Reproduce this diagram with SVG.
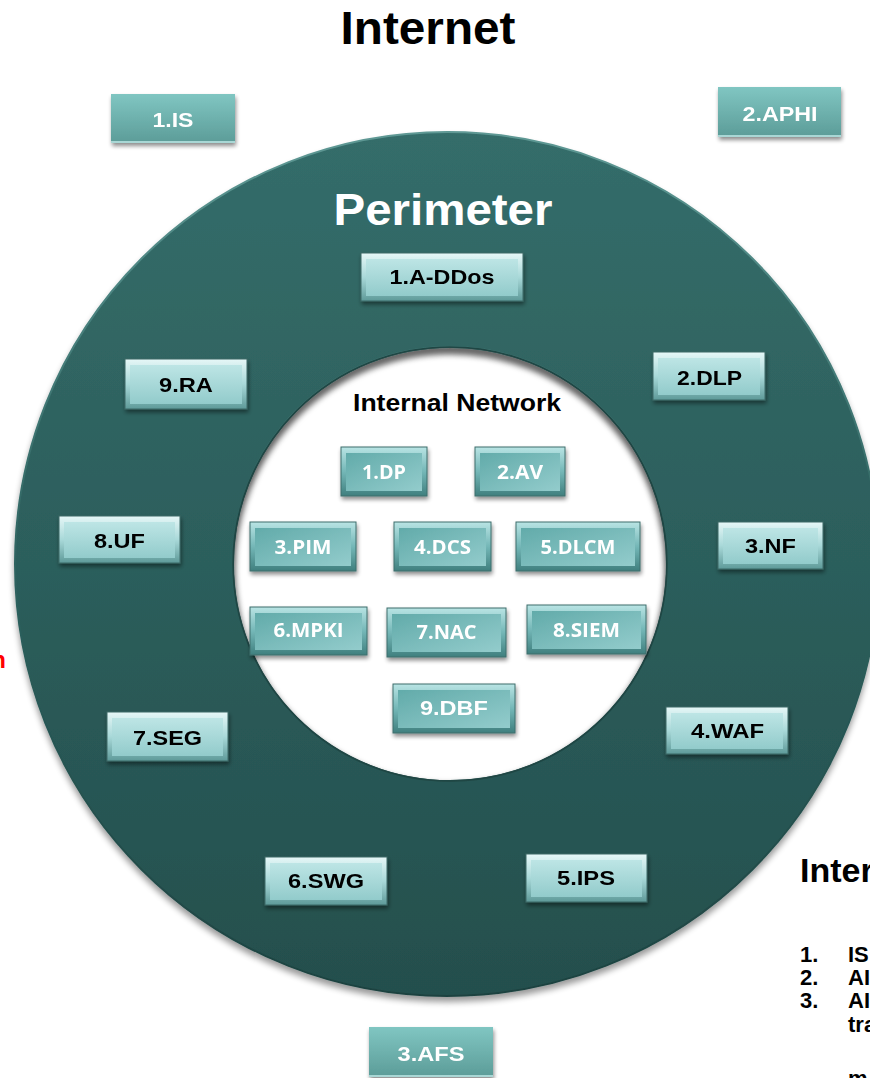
<svg xmlns="http://www.w3.org/2000/svg" width="870" height="1078" viewBox="0 0 870 1078">
<defs>
<style>
.t{font-family:"Liberation Sans",Arial,sans-serif;font-weight:bold}
.pl{font-family:"Liberation Sans",Arial,sans-serif;font-weight:bold;font-size:21px;fill:#000;text-anchor:middle}
.il{font-family:"Open Sans","Liberation Sans",sans-serif;font-weight:bold;font-size:20px;fill:#fff;text-anchor:middle}
.fl{font-family:"Liberation Sans",Arial,sans-serif;font-weight:bold;font-size:21px;fill:#fff;text-anchor:middle}
.po{fill:url(#gOutP);stroke:#3c6866;stroke-width:1}
.pf{fill:url(#gFaceP)}
.io{fill:url(#gOutI);stroke:#3f6e6d;stroke-width:1}
.if{fill:url(#gFaceI)}
.fo{fill:url(#gFlat)}
.fe{fill:#a9d7d5}
</style>
<linearGradient id="gOutP" x1="0" y1="0" x2="0" y2="1">
<stop offset="0" stop-color="#e6f7f7"/><stop offset="0.5" stop-color="#a9d9d9"/><stop offset="1" stop-color="#5e9a99"/>
</linearGradient>
<linearGradient id="gFaceP" x1="0" y1="0" x2="0" y2="1">
<stop offset="0" stop-color="#bde5e5"/><stop offset="1" stop-color="#92cbcb"/>
</linearGradient>
<linearGradient id="gOutI" x1="0" y1="0" x2="0" y2="1">
<stop offset="0" stop-color="#b9e4e4"/><stop offset="0.5" stop-color="#74b7b7"/><stop offset="1" stop-color="#3f7f7e"/>
</linearGradient>
<linearGradient id="gFaceI" x1="0" y1="0" x2="1" y2="1">
<stop offset="0" stop-color="#62abaa"/><stop offset="1" stop-color="#93cccc"/>
</linearGradient>
<linearGradient id="gFlat" x1="0" y1="0" x2="0" y2="1">
<stop offset="0" stop-color="#80c6c2"/><stop offset="1" stop-color="#5c9c98"/>
</linearGradient>
<linearGradient id="gRing" x1="0" y1="0" x2="0" y2="1">
<stop offset="0" stop-color="#346d6a"/><stop offset="1" stop-color="#244f4d"/>
</linearGradient>
<linearGradient id="gRim" x1="0" y1="0" x2="0" y2="1">
<stop offset="0" stop-color="#5e9894"/><stop offset="0.5" stop-color="#2e6360"/><stop offset="1" stop-color="#1d4240"/>
</linearGradient>
<filter id="sh" x="-10%" y="-10%" width="130%" height="150%">
<feGaussianBlur in="SourceAlpha" stdDeviation="2"/><feOffset dx="1" dy="3"/>
<feComponentTransfer><feFuncA type="linear" slope="0.45"/></feComponentTransfer>
<feMerge><feMergeNode/><feMergeNode in="SourceGraphic"/></feMerge>
</filter>
<filter id="rsh" x="-5%" y="-5%" width="110%" height="112%">
<feGaussianBlur in="SourceAlpha" stdDeviation="3"/><feOffset dx="0" dy="5"/>
<feComponentTransfer><feFuncA type="linear" slope="0.4"/></feComponentTransfer>
<feMerge><feMergeNode/><feMergeNode in="SourceGraphic"/></feMerge>
</filter>
<filter id="blur3"><feGaussianBlur stdDeviation="3"/></filter>
<clipPath id="innerClip"><circle cx="450" cy="564" r="217"/></clipPath>
</defs>
<rect width="870" height="1078" fill="#fff"/>

<g id="ring">
<path filter="url(#rsh)" fill="url(#gRing)" fill-rule="evenodd" stroke="url(#gRim)" stroke-width="2" d="M15 564a432 432 0 1 0 864 0a432 432 0 1 0 -864 0Z M233 564a217 217 0 1 0 434 0a217 217 0 1 0 -434 0Z"/>
<g clip-path="url(#innerClip)">
<circle cx="450" cy="569" r="219" fill="none" stroke="#000" stroke-opacity="0.45" stroke-width="8" filter="url(#blur3)"/>
</g>
<circle cx="450" cy="564" r="217" fill="none" stroke="#1f4644" stroke-width="1.5"/>
</g>

<g id="titles">
<text class="t" x="428" y="44" font-size="46" text-anchor="middle" textLength="175" lengthAdjust="spacingAndGlyphs" fill="#000">Internet</text>
<text class="t" x="443" y="225" font-size="44" text-anchor="middle" textLength="219" lengthAdjust="spacingAndGlyphs" fill="#fff">Perimeter</text>
<text class="t" x="457" y="411" font-size="24" text-anchor="middle" textLength="208" lengthAdjust="spacingAndGlyphs" fill="#000">Internal Network</text>
</g>

<g id="internet-1-IS" filter="url(#sh)">
<rect class="fo" x="111" y="94" width="124" height="49"/><rect class="fe" x="111" y="141" width="124" height="2"/>
<text class="fl" x="173" y="127" textLength="41" lengthAdjust="spacingAndGlyphs">1.IS</text>
</g>
<g id="internet-2-APHI" filter="url(#sh)">
<rect class="fo" x="718" y="87" width="123" height="50"/><rect class="fe" x="718" y="135" width="123" height="2"/>
<text class="fl" x="780" y="121" textLength="75" lengthAdjust="spacingAndGlyphs">2.APHI</text>
</g>
<g id="internet-3-AFS" filter="url(#sh)">
<rect class="fo" x="369" y="1027" width="124" height="50"/><rect class="fe" x="369" y="1075" width="124" height="2"/>
<text class="fl" x="431" y="1061" textLength="67" lengthAdjust="spacingAndGlyphs">3.AFS</text>
</g>

<g id="per-1-ADDos" filter="url(#sh)">
<rect class="po" x="361" y="253" width="162" height="48"/><rect class="pf" x="366" y="259" width="152" height="37"/>
<text class="pl" x="442" y="284" textLength="105" lengthAdjust="spacingAndGlyphs">1.A-DDos</text>
</g>
<g id="per-2-DLP" filter="url(#sh)">
<rect class="po" x="653" y="352" width="112" height="48"/><rect class="pf" x="658" y="358" width="102" height="37"/>
<text class="pl" x="709.5" y="385" textLength="65" lengthAdjust="spacingAndGlyphs">2.DLP</text>
</g>
<g id="per-3-NF" filter="url(#sh)">
<rect class="po" x="718" y="522" width="105" height="47"/><rect class="pf" x="723" y="528" width="95" height="36"/>
<text class="pl" x="770.5" y="553" textLength="51" lengthAdjust="spacingAndGlyphs">3.NF</text>
</g>
<g id="per-4-WAF" filter="url(#sh)">
<rect class="po" x="666" y="707" width="122" height="47"/><rect class="pf" x="671" y="713" width="112" height="36"/>
<text class="pl" x="727.5" y="738" textLength="73" lengthAdjust="spacingAndGlyphs">4.WAF</text>
</g>
<g id="per-5-IPS" filter="url(#sh)">
<rect class="po" x="526" y="854" width="121" height="48"/><rect class="pf" x="531" y="860" width="111" height="37"/>
<text class="pl" x="586" y="885" textLength="58" lengthAdjust="spacingAndGlyphs">5.IPS</text>
</g>
<g id="per-6-SWG" filter="url(#sh)">
<rect class="po" x="265" y="857" width="122" height="48"/><rect class="pf" x="270" y="863" width="112" height="37"/>
<text class="pl" x="326" y="888" textLength="76" lengthAdjust="spacingAndGlyphs">6.SWG</text>
</g>
<g id="per-7-SEG" filter="url(#sh)">
<rect class="po" x="107" y="712" width="121" height="49"/><rect class="pf" x="112" y="718" width="111" height="38"/>
<text class="pl" x="167.5" y="745" textLength="69" lengthAdjust="spacingAndGlyphs">7.SEG</text>
</g>
<g id="per-8-UF" filter="url(#sh)">
<rect class="po" x="59" y="516" width="121" height="47"/><rect class="pf" x="64" y="522" width="111" height="36"/>
<text class="pl" x="119.5" y="548" textLength="51" lengthAdjust="spacingAndGlyphs">8.UF</text>
</g>
<g id="per-9-RA" filter="url(#sh)">
<rect class="po" x="125" y="359" width="122" height="50"/><rect class="pf" x="130" y="365" width="112" height="39"/>
<text class="pl" x="186" y="392" textLength="54" lengthAdjust="spacingAndGlyphs">9.RA</text>
</g>

<g id="int-1-DP" filter="url(#sh)">
<rect class="io" x="341" y="447" width="86" height="49"/><rect class="if" x="346" y="453" width="76" height="38"/>
<text class="il" x="384" y="479" textLength="44" lengthAdjust="spacingAndGlyphs">1.DP</text>
</g>
<g id="int-2-AV" filter="url(#sh)">
<rect class="io" x="475" y="447" width="90" height="49"/><rect class="if" x="480" y="453" width="80" height="38"/>
<text class="il" x="520" y="479" textLength="46" lengthAdjust="spacingAndGlyphs">2.AV</text>
</g>
<g id="int-3-PIM" filter="url(#sh)">
<rect class="io" x="250" y="522" width="106" height="49"/><rect class="if" x="255" y="528" width="96" height="38"/>
<text class="il" x="303" y="554" textLength="57" lengthAdjust="spacingAndGlyphs">3.PIM</text>
</g>
<g id="int-4-DCS" filter="url(#sh)">
<rect class="io" x="394" y="522" width="97" height="49"/><rect class="if" x="399" y="528" width="87" height="38"/>
<text class="il" x="442.5" y="554" textLength="57" lengthAdjust="spacingAndGlyphs">4.DCS</text>
</g>
<g id="int-5-DLCM" filter="url(#sh)">
<rect class="io" x="516" y="522" width="124" height="49"/><rect class="if" x="521" y="528" width="114" height="38"/>
<text class="il" x="578" y="554" textLength="75" lengthAdjust="spacingAndGlyphs">5.DLCM</text>
</g>
<g id="int-6-MPKI" filter="url(#sh)">
<rect class="io" x="250" y="607" width="117" height="48"/><rect class="if" x="255" y="613" width="107" height="37"/>
<text class="il" x="308.5" y="637" textLength="70" lengthAdjust="spacingAndGlyphs">6.MPKI</text>
</g>
<g id="int-7-NAC" filter="url(#sh)">
<rect class="io" x="387" y="608" width="119" height="49"/><rect class="if" x="392" y="614" width="109" height="38"/>
<text class="il" x="446.5" y="639" textLength="60" lengthAdjust="spacingAndGlyphs">7.NAC</text>
</g>
<g id="int-8-SIEM" filter="url(#sh)">
<rect class="io" x="527" y="605" width="119" height="49"/><rect class="if" x="532" y="611" width="109" height="38"/>
<text class="il" x="586.5" y="637" textLength="67" lengthAdjust="spacingAndGlyphs">8.SIEM</text>
</g>
<g id="int-9-DBF" filter="url(#sh)">
<rect class="io" x="393" y="684" width="122" height="49"/><rect class="if" x="398" y="690" width="112" height="38"/>
<text class="il" x="454" y="715" textLength="68" lengthAdjust="spacingAndGlyphs" style="font-family:'Liberation Sans',Arial,sans-serif">9.DBF</text>
</g>

<g id="side-text">
<text class="t" x="6" y="668" font-size="24" text-anchor="end" fill="#ff0000">n</text>
<text class="t" x="800" y="882" font-size="34" fill="#000">Inter</text>
<text class="t" x="800" y="962" font-size="22" fill="#000">1.</text>
<text class="t" x="848" y="962" font-size="22" fill="#000">IS</text>
<text class="t" x="800" y="985" font-size="22" fill="#000">2.</text>
<text class="t" x="848" y="985" font-size="22" fill="#000">AI</text>
<text class="t" x="800" y="1008" font-size="22" fill="#000">3.</text>
<text class="t" x="848" y="1008" font-size="22" fill="#000">AI</text>
<text class="t" x="848" y="1032" font-size="22" fill="#000">tra</text>
<text class="t" x="848" y="1086" font-size="22" fill="#000">m</text>
</g>
</svg>
